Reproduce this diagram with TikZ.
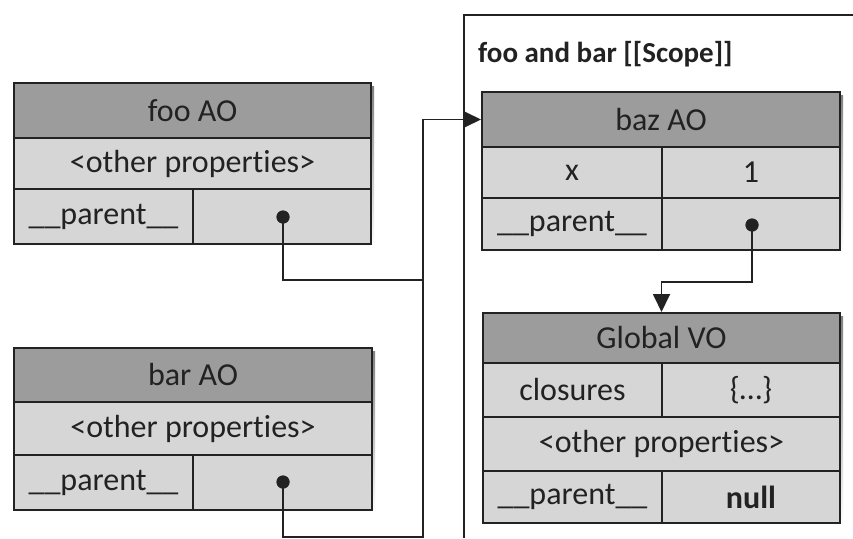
\documentclass[tikz,border=0pt]{standalone}
\usepackage{fontspec}
\setmainfont[Ligatures=NoCommon]{Carlito}
\usetikzlibrary{arrows.meta}
\definecolor{hdrgray}{HTML}{9C9C9C}
\definecolor{rowgray}{HTML}{D6D6D6}
\definecolor{ink}{HTML}{222222}
\definecolor{shade}{HTML}{8A8A8A}
\newcommand\mkcell[7]{%
  \pgfmathsetmacro\cw{#5-#3}\pgfmathsetmacro\ch{#6-#4}%
  \node[#2, minimum width=\cw pt, minimum height=\ch pt] (#1) at ({(#3+#5)/2},{(#4+#6)/2}) {#7};}
\begin{document}
\begin{tikzpicture}[x=1pt,y=-1pt,
  cell/.style={draw=ink, line width=2pt, inner sep=0pt, font=\fontsize{32}{36}\selectfont, text=ink},
  hdr/.style={cell, fill=hdrgray},
  rowc/.style={cell, fill=rowgray},
  conn/.style={draw=ink, line width=1.8pt},
  arr/.style={conn, -{Triangle[length=18pt,width=17pt]}},
  dotc/.style={circle, fill=ink, inner sep=0pt, minimum size=13pt},
  frame/.style={draw=ink, line width=1.4pt}]
\fill[white] (0,0) rectangle (853,538);
\useasboundingbox (0,0) rectangle (853,538);

% scope frame
\coordinate (fr1) at (464,538);
\coordinate (fr2) at (464,15);
\coordinate (fr3) at (853,15);
\draw[frame] (fr1) -- (fr2) -- (fr3);
\node[anchor=base west, inner sep=0pt, text=ink, font=\fontsize{29}{32}\selectfont\bfseries] (title) at (478,62) {foo and bar [[Scope]]};

% shadows
\fill[shade] (17,86) rectangle (374,247);
\fill[shade] (17,351) rectangle (375,513);
\fill[shade] (485,95) rectangle (843,253);
\fill[shade] (486,316) rectangle (843,526);

% foo AO
\mkcell{fooh}{hdr}{14}{83}{371}{138}{foo AO}
\mkcell{fooo}{rowc}{14}{138}{371}{189}{<other properties>}
\mkcell{foopk}{rowc}{14}{189}{193}{244}{\_\_parent\_\_}
\mkcell{foopv}{rowc}{193}{189}{371}{244}{}

% bar AO
\mkcell{barh}{hdr}{14}{348}{372}{402}{bar AO}
\mkcell{baro}{rowc}{14}{402}{372}{455}{<other properties>}
\mkcell{barpk}{rowc}{14}{455}{193}{510}{\_\_parent\_\_}
\mkcell{barpv}{rowc}{193}{455}{372}{510}{}

% baz AO
\mkcell{bazh}{hdr}{482}{92}{840}{147}{baz AO}
\mkcell{bazxk}{rowc}{482}{147}{662}{198}{x}
\mkcell{bazxv}{rowc}{662}{147}{840}{198}{1}
\mkcell{bazpk}{rowc}{482}{198}{662}{250}{\_\_parent\_\_}
\mkcell{bazpv}{rowc}{662}{198}{840}{250}{}

% Global VO
\mkcell{gloh}{hdr}{483}{313}{840}{363}{Global VO}
\mkcell{glock}{rowc}{483}{363}{662}{417}{closures}
\mkcell{glocv}{rowc}{662}{363}{840}{417}{\{…\}}
\mkcell{gloo}{rowc}{483}{417}{840}{471}{<other properties>}
\mkcell{glopk}{rowc}{483}{471}{662}{523}{\_\_parent\_\_}
\mkcell{glopv}{rowc}{662}{471}{840}{523}{\textbf{null}}

% connectors
\node[dotc] (foodot) at (283,217) {};
\node[dotc] (bardot) at (283,482) {};
\node[dotc] (bazdot) at (752,225) {};
\coordinate (fooj) at (423,280);
\coordinate (barc) at (423,537);
\coordinate (bazbend) at (752,282);
\draw[conn] (foodot.center) |- (fooj);
\draw[arr] (bardot.center) |- (barc) |- (bazh.west);
\draw[arr] (bazdot.center) -- (bazbend) -| (gloh.north);
\node[dotc] at (foodot) {};
\node[dotc] at (bardot) {};
\node[dotc] at (bazdot) {};
\end{tikzpicture}
\end{document}
